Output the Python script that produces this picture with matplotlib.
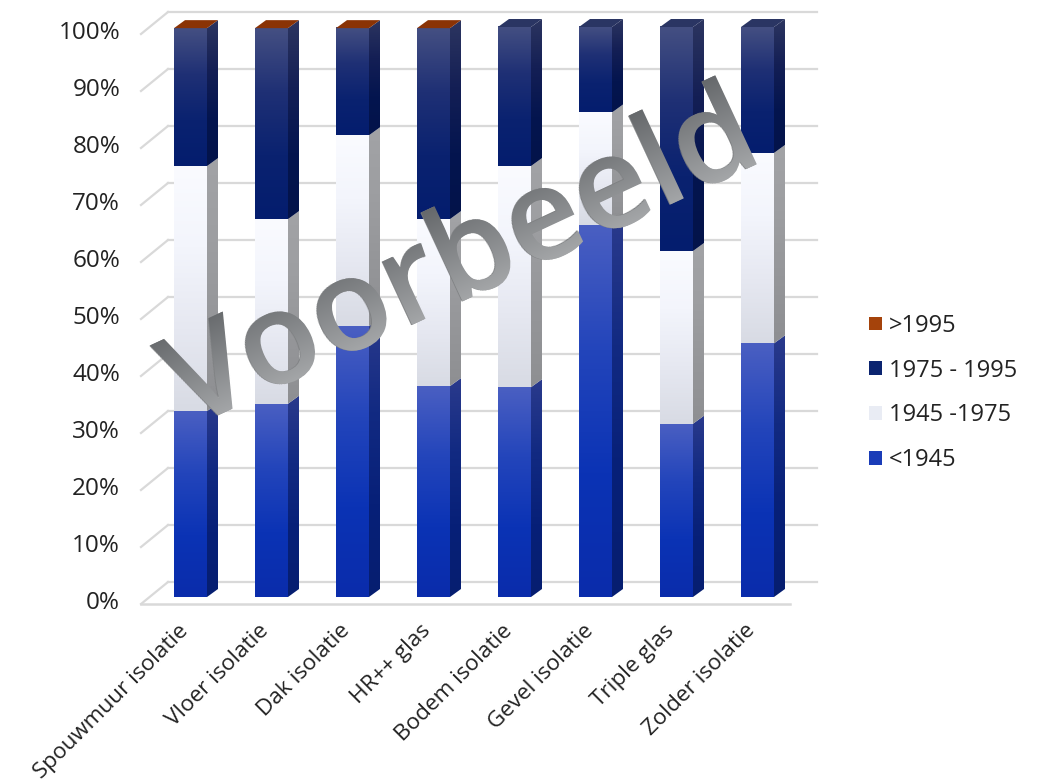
import numpy as np
import matplotlib
matplotlib.use('Agg')
import matplotlib.pyplot as plt
from matplotlib.colors import LinearSegmentedColormap
from matplotlib.font_manager import FontProperties
from matplotlib.patches import Patch, Polygon, PathPatch
from matplotlib.textpath import TextPath
from matplotlib.transforms import Affine2D

plt.rcParams['font.family'] = ['Open Sans', 'DejaVu Sans']

categories = ['Spouwmuur isolatie', 'Vloer isolatie', 'Dak isolatie', 'HR++ glas',
              'Bodem isolatie', 'Gevel isolatie', 'Triple glas', 'Zolder isolatie']
before_1945 = [32.6, 33.9, 47.5, 37.0, 36.8, 65.2, 30.4, 44.5]
from_1945 = [43.0, 32.4, 33.5, 29.3, 38.8, 19.8, 30.3, 33.4]
from_1975 = [24.2, 33.5, 18.8, 33.5, 24.4, 15.0, 39.3, 22.1]
after_1995 = [0.2, 0.2, 0.2, 0.2, 0.0, 0.0, 0.0, 0.0]
legend_labels = ['>1995', '1975 - 1995', '1945 -1975', '<1945']

W, H = 1038, 782
BAR_W = 33 / 81
DX, DY = 11 / 81, 8 / 5.7      # diepte van de balken
WALL_X, WALL_Y = 27 / 81, 15 / 5.7
FLOOR_Y = -7 / 5.7
GRID = '#d9d9d9'

# kleuren per segment: voorkant (boven -> onder), zijkant (boven -> onder)
front_cols = {
    'a': ['#4a5fc2', '#2345bb', '#0b33b5', '#0a2cab'],
    'b': ['#fafbff', '#f3f5fc', '#e6e8f1', '#d8dbe4'],
    'c': ['#444f82', '#1f3075', '#0a2270', '#041d6e'],
}
side_cols = {
    'a': ['#2a3a8c', '#122a82', '#072078', '#061e70'],
    'b': ['#a2a3a6', '#9d9ea1', '#959699', '#8e8f92'],
    'c': ['#2c3560', '#141f55', '#04154f', '#03134a'],
}


def gradient(ax, cols, x0, x1, y0, y1, z, clip=None):
    cmap = LinearSegmentedColormap.from_list('g', cols)
    im = ax.imshow(np.linspace(0, 1, 200).reshape(-1, 1), cmap=cmap, vmin=0, vmax=1,
                   extent=(x0, x1, y0, y1), origin='upper', aspect='auto',
                   interpolation='bilinear', zorder=z)
    im.set_clip_box(fig.bbox)
    if clip is not None:
        im.set_clip_path(Polygon(clip, closed=True, transform=ax.transData))
    return im


fig = plt.figure(figsize=(W / 100, H / 100), dpi=100)
ax = fig.add_axes([141 / W, 1 - 597 / H, 649 / W, 570 / H])
ax.patch.set_alpha(0)
for s in ax.spines.values():
    s.set_visible(False)

x_left, x_right = -49.5 / 81, (790 - 190.5) / 81

# wand, vloer en rasterlijnen
for v in range(0, 101, 10):
    ax.plot([x_left + WALL_X, x_right + WALL_X], [v + WALL_Y, v + WALL_Y],
            color=GRID, lw=1.6, zorder=1, clip_on=False)
    ax.plot([x_left, x_left + WALL_X], [v + FLOOR_Y, v + WALL_Y],
            color=GRID, lw=1.6, zorder=1, clip_on=False)
ax.plot([x_left, x_right], [FLOOR_Y, FLOOR_Y], color=GRID, lw=1.8, zorder=1, clip_on=False)

# de gestapelde balken
for i in range(len(categories)):
    left, right = i - BAR_W / 2, i + BAR_W / 2
    bottom = 0
    z = 3 + i
    for key, val in zip('abc', [before_1945[i], from_1945[i], from_1975[i]]):
        top = bottom + val
        gradient(ax, front_cols[key], left, right, bottom, top, z + 0.2)
        side = [(right, bottom), (right + DX, bottom + DY), (right + DX, top + DY), (right, top)]
        gradient(ax, side_cols[key], right, right + DX, bottom, top + DY, z + 0.1, clip=side)
        bottom = top
    top_col = '#8a3305' if after_1995[i] > 0 else '#2a3563'
    ax.add_patch(Polygon([(left, bottom), (right, bottom), (right + DX, bottom + DY), (left + DX, bottom + DY)],
                         closed=True, facecolor=top_col, edgecolor='none', zorder=z + 0.3, clip_on=False))

# assen
ax.set_yticks(range(0, 101, 10))
ax.set_yticklabels([f'{v}%' for v in range(0, 101, 10)], fontsize=17.5, color='#222222')
ax.set_xticks(range(len(categories)))
ax.set_xticklabels(categories, rotation=45, ha='right', rotation_mode='anchor',
                   fontsize=16.2, color='#222222')
ax.tick_params(axis='y', length=0, pad=15)
ax.tick_params(axis='x', length=0, pad=16)
for lab in ax.get_yticklabels():
    lab.set_transform(lab.get_transform() + Affine2D().translate(0, -3))
for lab in ax.get_xticklabels():
    lab.set_transform(lab.get_transform() + Affine2D().translate(-13, -1))

# legenda
handles = [Patch(facecolor='#a5430b'), Patch(facecolor='#0b2470'),
           Patch(facecolor='#e9ecf4'), Patch(facecolor='#1a3cb8')]
fig.legend(handles, legend_labels, frameon=False, fontsize=17, loc='center left',
           bbox_to_anchor=(848 / W, 1 - 393 / H), handlelength=0.53, handleheight=0.53,
           handletextpad=0.3, labelspacing=0.88, labelcolor='#222222')

# watermerk
word = 'Voorbeeld'
angle = 25
ax_px, ay_px = 189, 429
fs = 93
ax.text(ax_px / W, 1 - ay_px / H, word, transform=fig.transFigure, fontsize=fs, rotation=angle,
        rotation_mode='anchor', ha='left', va='baseline', color='#7f8183', zorder=20, clip_on=False,
        weight='semibold')
T = Affine2D().rotate_deg(angle).translate(ax_px, H - ay_px)
tp = TextPath((0, 0), word, size=fs * 100 / 72, prop=FontProperties(family='Open Sans', weight='semibold'))
clip = PathPatch(tp, transform=T)
wm_cmap = LinearSegmentedColormap.from_list('wm', ['#55585b', '#a9abad'])
im = ax.imshow(np.linspace(0, 1, 200).reshape(-1, 1), cmap=wm_cmap, vmin=0, vmax=1,
               extent=(-10, 760, -10, 125), origin='upper', aspect='auto', zorder=21)
im.set_transform(T)
im.set_clip_box(fig.bbox)
im.set_clip_path(clip)

ax.set_xlim(x_left, x_right)
ax.set_ylim(0, 100)

fig.savefig('out.png', dpi=100)
